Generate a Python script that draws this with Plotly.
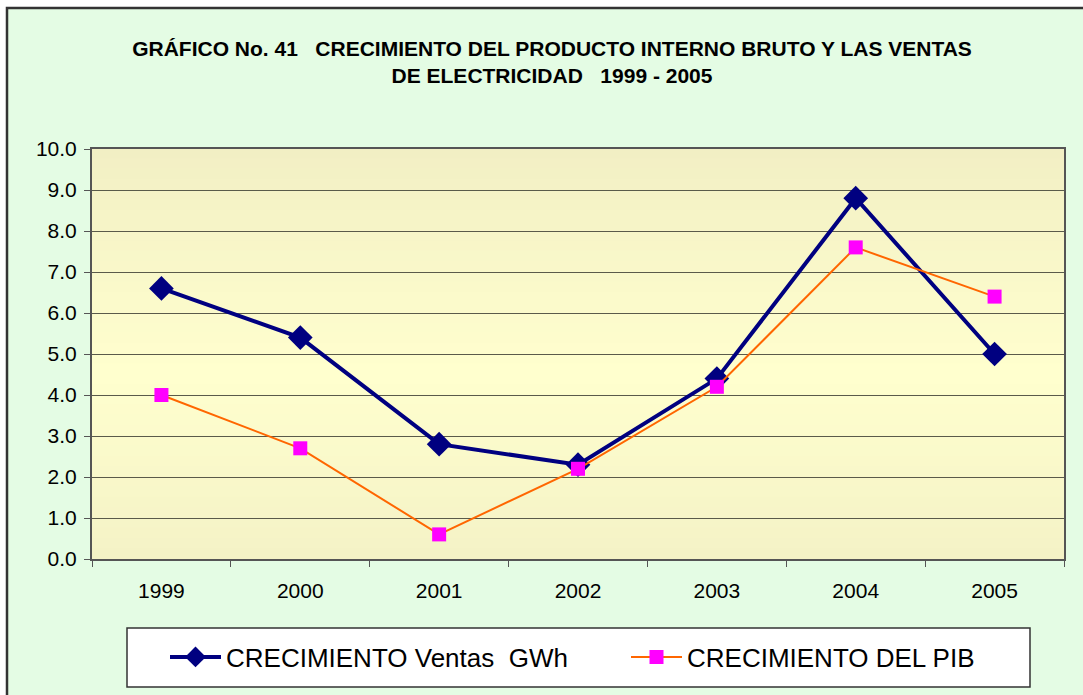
import plotly.graph_objects as go

years = ["1999", "2000", "2001", "2002", "2003", "2004", "2005"]
ventas = [6.6, 5.4, 2.8, 2.3, 4.4, 8.8, 5.0]
pib = [4.0, 2.7, 0.6, 2.2, 4.2, 7.6, 6.4]

L, R, T, B = 92, 19, 149, 136
W, H = 1083, 695
pw, ph = W - L - R, H - T - B

def px_x(p):
    return (p - L) / pw

def px_y(p):
    return (H - B - p) / ph

fig = go.Figure()
fig.add_trace(go.Scatter(
    x=years, y=ventas, mode="lines+markers", name="CRECIMIENTO Ventas  GWh",
    line=dict(color="#000080", width=4),
    marker=dict(symbol="diamond", size=19, color="#000080"),
))
fig.add_trace(go.Scatter(
    x=years, y=pib, mode="lines+markers", name="CRECIMIENTO DEL PIB",
    line=dict(color="#ff6600", width=2),
    marker=dict(symbol="square", size=14, color="#ff00ff"),
))

# plot-area vertical gradient (style only)
def lerp(c1, c2, t):
    return tuple(round(a + (b - a) * t) for a, b in zip(c1, c2))

top_c, mid_c, bot_c = (242, 239, 196), (255, 255, 206), (244, 242, 198)
n = 40
bands = []
for i in range(n):
    f = (i + 0.5) / n  # 0 = top, 1 = bottom
    if f < 0.55:
        c = lerp(top_c, mid_c, f / 0.55)
    else:
        c = lerp(mid_c, bot_c, (f - 0.55) / 0.45)
    y1 = 1 - i / n
    y0 = 1 - (i + 1) / n
    bands.append(dict(type="rect", xref="paper", yref="paper", x0=0, x1=1,
                      y0=y0, y1=y1 + 0.002, line=dict(width=0),
                      fillcolor="rgb(%d,%d,%d)" % c, layer="below"))

fig.update_layout(
    width=W, height=H,
    margin=dict(l=L, r=R, t=T, b=B, autoexpand=False),
    paper_bgcolor="#ffffff",
    plot_bgcolor="rgba(0,0,0,0)",
    font=dict(family="Liberation Sans, Arial, sans-serif", color="#000000"),
    title=dict(
        text="GRÁFICO No. 41   CRECIMIENTO DEL PRODUCTO INTERNO BRUTO Y LAS VENTAS<br>DE ELECTRICIDAD   1999 - 2005",
        x=552 / W, xanchor="center", xref="container", yref="container",
        y=1 - 56 / H, yanchor="middle",
        font=dict(size=21, family="Liberation Sans, Arial, sans-serif", weight="bold"),
    ),
    showlegend=True,
    legend=dict(
        orientation="h", xref="container", yref="container",
        x=165 / W, y=1 - 657 / H, xanchor="left", yanchor="middle",
        bgcolor="rgba(0,0,0,0)", borderwidth=0,
        font=dict(size=26, family="Liberation Sans, Arial, sans-serif"),
        entrywidth=395, itemwidth=51, tracegroupgap=0,
    ),
    shapes=[
        dict(type="rect", xref="paper", yref="paper",
             x0=px_x(7), x1=px_x(1095), y0=px_y(8), y1=px_y(705),
             line=dict(color="#333333", width=2.5), fillcolor="#e4fce4", layer="below"),
        dict(type="rect", xref="paper", yref="paper",
             x0=px_x(127), x1=px_x(1030), y0=px_y(628), y1=px_y(687),
             line=dict(color="#333333", width=1.5), fillcolor="#ffffff", layer="below"),
    ] + bands,
)

fig.update_xaxes(
    type="category", range=[-0.5, len(years) - 0.5], autorange=False,
    tickson="boundaries", ticks="outside", ticklen=6,
    tickcolor="#555555", showline=True, linecolor="#555555", linewidth=2,
    mirror=True, showgrid=False, tickfont=dict(size=21), ticklabelstandoff=12,
)
fig.update_yaxes(
    range=[0, 10], dtick=1, tickformat=".1f", ticks="outside", ticklen=6,
    tickcolor="#555555", showline=True, linecolor="#555555", linewidth=2,
    mirror=True, showgrid=True, gridcolor="#5a5a4a", gridwidth=1,
    tickfont=dict(size=21), zeroline=False, ticklabelstandoff=3,
)

fig.write_html("out.html", config={"displayModeBar": False},
               post_script="document.body.style.margin='0';")
